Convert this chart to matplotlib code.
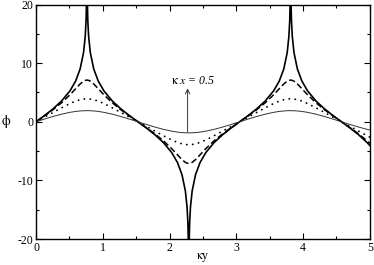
import numpy as np
import matplotlib
matplotlib.use("Agg")
import matplotlib.pyplot as plt
from matplotlib.ticker import MultipleLocator

plt.rcParams['font.family'] = ['Liberation Serif', 'DejaVu Serif']
plt.rcParams['mathtext.fontset'] = 'stix'
plt.rcParams['axes.unicode_minus'] = False

# kappa*y sample positions (denser near the spikes)
ky = [0, 0.1271, 0.2542, 0.3813, 0.5083, 0.5931, 0.6608, 0.7117, 0.7371, 0.7498, 0.7583,
      0.7667, 0.7752, 0.7879, 0.8133, 0.8642, 0.9319, 1.0167, 1.1438, 1.2708, 1.3979,
      1.525, 1.6521, 1.7792, 1.9063, 2.0333, 2.1181, 2.1858, 2.2367, 2.2621, 2.2748, 2.2833,
      2.2917, 2.3002, 2.3129, 2.3383, 2.3892, 2.4569, 2.5417, 2.6688, 2.7958, 2.9229,
      3.05, 3.1771, 3.3042, 3.4313, 3.5583, 3.6431, 3.7108, 3.7617, 3.7871, 3.7998, 3.8083,
      3.8167, 3.8252, 3.8379, 3.8633, 3.9142, 3.9819, 4.0667, 4.1938, 4.3208, 4.4479,
      4.575, 4.7021, 4.8292, 4.9563, 5.0]

# kappa*x -> 0 (singular curve)
phi_thick = [0, 1.059, 2.197, 3.526, 5.268, 6.942, 9.011, 11.795, 14.570, 17.343, 21.738,
             21.738, 17.343, 14.570, 11.795, 9.011, 6.942, 5.268, 3.526, 2.197, 1.059,
             0, -1.059, -2.197, -3.526, -5.268, -6.942, -9.011, -11.795, -14.570, -17.343, -21.738,
             -21.738, -17.343, -14.570, -11.795, -9.011, -6.942, -5.268, -3.526, -2.197, -1.059,
             0, 1.059, 2.197, 3.526, 5.268, 6.942, 9.011, 11.795, 14.570, 17.343, 21.738,
             21.738, 17.343, 14.570, 11.795, 9.011, 6.942, 5.268, 3.526, 2.197, 1.059,
             0, -1.059, -2.197, -3.526, -4.060]

phi_dash = [0, 0.998, 2.051, 3.226, 4.600, 5.637, 6.453, 6.922, 7.058, 7.093, 7.104,
            7.104, 7.093, 7.058, 6.922, 6.453, 5.637, 4.600, 3.226, 2.051, 0.998,
            0, -0.998, -2.051, -3.226, -4.600, -5.637, -6.453, -6.922, -7.058, -7.093, -7.104,
            -7.104, -7.093, -7.058, -6.922, -6.453, -5.637, -4.600, -3.226, -2.051, -0.998,
            0, 0.998, 2.051, 3.226, 4.600, 5.637, 6.453, 6.922, 7.058, 7.093, 7.104,
            7.104, 7.093, 7.058, 6.922, 6.453, 5.637, 4.600, 3.226, 2.051, 0.998,
            0, -0.998, -2.051, -3.226, -3.673]

phi_dot = [0, 0.789, 1.582, 2.370, 3.110, 3.522, 3.763, 3.873, 3.901, 3.908, 3.910,
           3.910, 3.908, 3.901, 3.873, 3.763, 3.522, 3.110, 2.370, 1.582, 0.789,
           0, -0.789, -1.582, -2.370, -3.110, -3.522, -3.763, -3.873, -3.901, -3.908, -3.910,
           -3.910, -3.908, -3.901, -3.873, -3.763, -3.522, -3.110, -2.370, -1.582, -0.789,
           0, 0.789, 1.582, 2.370, 3.110, 3.522, 3.763, 3.873, 3.901, 3.908, 3.910,
           3.910, 3.908, 3.901, 3.873, 3.763, 3.522, 3.110, 2.370, 1.582, 0.789,
           0, -0.789, -1.582, -2.370, -2.635]

# kappa*x = 0.5
phi_thin = [0, 0.458, 0.896, 1.289, 1.608, 1.762, 1.845, 1.880, 1.889, 1.891, 1.892,
            1.892, 1.891, 1.889, 1.880, 1.845, 1.762, 1.608, 1.289, 0.896, 0.458,
            0, -0.458, -0.896, -1.289, -1.608, -1.762, -1.845, -1.880, -1.889, -1.891, -1.892,
            -1.892, -1.891, -1.889, -1.880, -1.845, -1.762, -1.608, -1.289, -0.896, -0.458,
            0, 0.458, 0.896, 1.289, 1.608, 1.762, 1.845, 1.880, 1.889, 1.891, 1.892,
            1.892, 1.891, 1.889, 1.880, 1.845, 1.762, 1.608, 1.289, 0.896, 0.458,
            0, -0.458, -0.896, -1.289, -1.409]

fig = plt.figure(figsize=(3.74, 2.65), dpi=100)
ax = fig.add_axes([0.0963, 0.098, 0.8927, 0.885])

ax.plot(ky, phi_thick, color='black', lw=1.2)
ax.plot(ky, phi_dash, color='black', lw=1.1, dashes=(4, 2))
ax.plot(ky, phi_dot, color='black', lw=1.3, dashes=(0.1, 3.2), dash_capstyle='round')
ax.plot(ky, phi_thin, color='#333333', lw=0.7)

ax.annotate('', xy=(2.27, 5.7), xytext=(2.27, -1.75),
            arrowprops=dict(arrowstyle='->', color='#333333', lw=0.7,
                            shrinkA=0, shrinkB=0, mutation_scale=8))
ax.text(2.35, 6.9, r'$\mathrm{\kappa}\ x$' + ' = 0.5', ha='center', va='center',
        fontsize=8.5, style='italic')

ax.set_xlim(0, 5)
ax.set_ylim(-20, 20)
ax.xaxis.set_major_locator(MultipleLocator(1))
ax.xaxis.set_minor_locator(MultipleLocator(0.5))
ax.yaxis.set_major_locator(MultipleLocator(10))
ax.yaxis.set_minor_locator(MultipleLocator(5))
ax.tick_params(which='both', direction='in', top=True, right=True, labelsize=8.5,
               width=0.8, pad=2)
ax.tick_params(which='major', length=4)
ax.tick_params(which='minor', length=2)
for sp in ax.spines.values():
    sp.set_linewidth(1.0)

ax.set_xlabel(r'$\mathrm{\kappa}$y', fontsize=8.5, labelpad=-2)
ax.set_ylabel(r'$\mathrm{\phi}$', fontsize=10, rotation=0, labelpad=8, va='center')

fig.savefig('out.png', dpi=100)
